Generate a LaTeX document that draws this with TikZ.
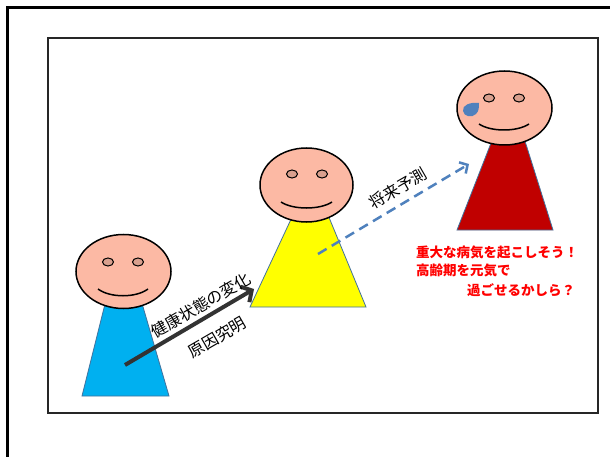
\documentclass[tikz,border=0pt]{standalone}
\usepackage{fontspec}
\newfontfamily\jp{Noto Sans CJK JP}
\usetikzlibrary{arrows.meta}
\definecolor{face}{HTML}{FCB9A4}
\definecolor{eye}{HTML}{D9A08E}
\definecolor{bodyedge}{HTML}{41719C}
\definecolor{skyblue}{HTML}{00B0F0}
\definecolor{lemon}{HTML}{FFFF00}
\definecolor{crimson}{HTML}{C00000}
\definecolor{tear}{HTML}{4F81BD}
\definecolor{dasharrow}{HTML}{4F81BD}
\definecolor{darkarrow}{HTML}{333333}
\tikzset{
  bodyshape/.style={draw=bodyedge, line width=0.8pt},
  headshape/.style={draw=black, fill=face, line width=1.5pt},
  eyeshape/.style={draw=black, fill=eye, line width=1pt},
  smile/.style={draw=black, line width=1.5pt},
  label/.style={font=\jp\fontsize{16}{16}\selectfont, inner sep=0pt, rotate=30},
  worry/.style={font=\jp\bfseries\fontsize{13.5}{13.5}\selectfont, text=red, inner sep=0pt, anchor=west},
}
\begin{document}
\begin{tikzpicture}[x=1pt, y=-1pt]
\useasboundingbox (0,0) rectangle (610,457);
\fill[white] (0,0) rectangle (610,457);

% outer frame, open to the right and bottom
\draw[line width=3pt] (7.5,460) -- (7.5,7.5) -- (613,7.5);
% inner panel
\draw[line width=1.5pt, draw=black!85] (48,38) rectangle (598,413);

% ---- person 1 (blue) ----
\draw[bodyshape, fill=skyblue] (106,300) -- (141,300) -- (169,396) -- (82,396) -- cycle;
\draw[headshape] (123.5,271.5) ellipse [x radius=47.5, y radius=37];
\draw[eyeshape] (108,262) ellipse [x radius=5.5, y radius=4];
\draw[eyeshape] (138,262) ellipse [x radius=5.5, y radius=4];
\draw[smile] (98,289) .. controls (110,298) and (136,298) .. (148,289);

% ---- person 2 (yellow) ----
\draw[bodyshape, fill=lemon] (293,215) -- (328,215) -- (366,307) -- (250,307) -- cycle;
\draw[headshape] (306.5,185) ellipse [x radius=46.5, y radius=37];
\draw[eyeshape] (292,174) ellipse [x radius=5.5, y radius=4];
\draw[eyeshape] (322,174) ellipse [x radius=5.5, y radius=4];
\draw[smile] (281,202) .. controls (293,210) and (320,210) .. (332,202);

% ---- person 3 (red) ----
\draw[bodyshape, fill=crimson] (493,138) -- (524,138) -- (553,230) -- (457,230) -- cycle;
\draw[headshape] (504.5,108) ellipse [x radius=47.5, y radius=37];
\draw[eyeshape] (489,98) ellipse [x radius=5.5, y radius=4];
\draw[eyeshape] (519,98) ellipse [x radius=5.5, y radius=4];
\draw[smile] (479,124) .. controls (491,132) and (517,132) .. (529,124);
% drop of sweat
\fill[tear] (479,103) .. controls (470,102) and (462,105) .. (463,111)
  .. controls (464,117) and (472,118) .. (476,114)
  .. controls (479,111) and (479,107) .. (479,103) -- cycle;

% ---- arrows ----
\coordinate (pastStart) at (125,365);
\coordinate (pastEnd) at (254,289);
\coordinate (futStart) at (318,254);
\coordinate (futEnd) at (469,164);
\draw[darkarrow, line width=4pt, -{Straight Barb[length=8pt,width=18pt]}] (pastStart) -- (pastEnd);
\draw[dasharrow, line width=2.5pt, dash pattern=on 10pt off 6pt, -{Straight Barb[length=6pt,width=13pt]}] (futStart) -- (futEnd);

% ---- labels ----
\node[label] (change) at (201,305) {健康状態の変化};
\node[label] (cause) at (217,337) {原因究明};
\node[label] (forecast) at (398,188) {将来予測};

\node[worry] (w1) at (416,252.5) {重大な病気を起こしそう！};
\node[worry] (w2) at (416,270.5) {高齢期を元気で};
\node[worry] (w3) at (467,290) {過ごせるかしら？};
\end{tikzpicture}
\end{document}
